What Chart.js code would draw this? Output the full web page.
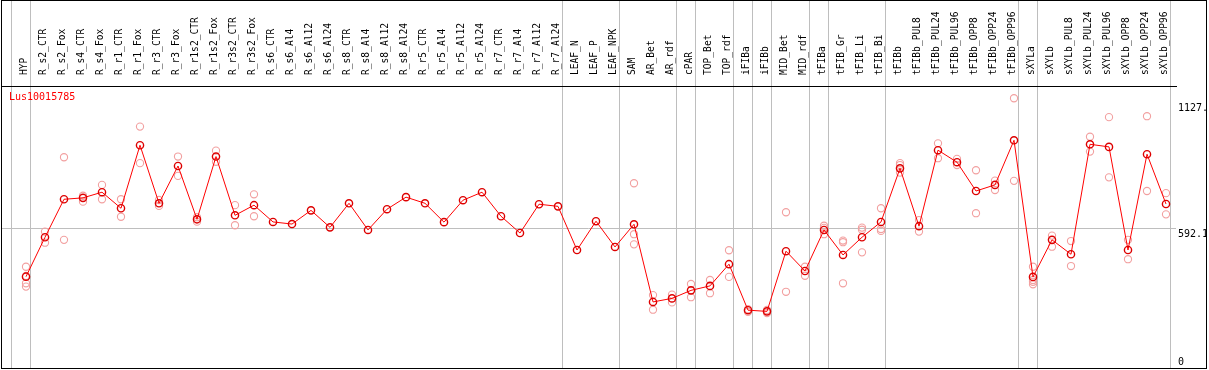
<!DOCTYPE html>
<html>
<head>
<meta charset="utf-8">
<script src="https://cdn.jsdelivr.net/npm/chart.js@4/dist/chart.umd.min.js"></script>
<style>
    html, body { margin: 0; padding: 0; background: #fff; }
    #wrap { position: relative; width: 1209px; height: 370px; }
    #frame {
        position: absolute; left: 1px; top: 0; width: 1206px; height: 369px;
        box-sizing: border-box; border: 1px solid #000; pointer-events: none;
    }
    #gene {
        position: absolute; left: 9px; top: 91px; color: #ff0000;
        font: 10px "DejaVu Sans Mono", monospace;
    }
</style>
</head>
<body>
<div id="wrap">
    <canvas id="chart" width="1209" height="370"></canvas>
    <div id="frame"></div>
    <div id="gene">Lus10015785</div>
</div>
<script>
const categories = [
    'HYP', 'R_s2_CTR', 'R_s2_Fox', 'R_s4_CTR', 'R_s4_Fox', 'R_r1_CTR', 'R_r1_Fox', 'R_r3_CTR', 'R_r3_Fox',
    'R_r1s2_CTR', 'R_r1s2_Fox', 'R_r3s2_CTR', 'R_r3s2_Fox', 'R_s6_CTR', 'R_s6_Al4', 'R_s6_Al12', 'R_s6_Al24',
    'R_s8_CTR', 'R_s8_Al4', 'R_s8_Al12', 'R_s8_Al24', 'R_r5_CTR', 'R_r5_Al4', 'R_r5_Al12', 'R_r5_Al24',
    'R_r7_CTR', 'R_r7_Al4', 'R_r7_Al12', 'R_r7_Al24', 'LEAF_N', 'LEAF_P', 'LEAF_NPK', 'SAM', 'AR_Bet', 'AR_rdf',
    'cPAR', 'TOP_Bet', 'TOP_rdf', 'iFIBa', 'iFIBb', 'MID_Bet', 'MID_rdf', 'tFIBa', 'tFIB_Gr', 'tFIB_Li', 'tFIB_Bi',
    'tFIBb', 'tFIBb_PUL8', 'tFIBb_PUL24', 'tFIBb_PUL96', 'tFIBb_OPP8', 'tFIBb_OPP24', 'tFIBb_OPP96',
    'sXYLa', 'sXYLb', 'sXYLb_PUL8', 'sXYLb_PUL24', 'sXYLb_PUL96', 'sXYLb_OPP8', 'sXYLb_OPP24', 'sXYLb_OPP96'
];

// mean expression per sample
const means = [
    387, 554, 715, 721, 745, 677, 944, 698, 856,
    630, 896, 647, 690, 619, 610, 668, 596,
    698, 585, 673, 724, 698, 618, 711, 745,
    643, 572, 694, 685, 500, 622, 513, 609, 280, 295,
    329, 348, 440, 245, 240, 495, 411, 585, 479, 554, 619,
    846, 601, 923, 872, 750, 776, 965,
    386, 543, 482, 948, 937, 500, 906, 695
];

// individual replicates (empty where they sit under the mean marker)
const replicates = [
    [429, 390, 359, 345], [578, 531], [893, 543], [730, 705], [776, 715], [715, 641], [1023, 868], [712, 687], [896, 814],
    [639, 620], [921, 874], [690, 605], [736, 643], [], [], [], [],
    [], [], [], [], [], [], [], [],
    [], [], [], [], [], [], [], [783, 567, 524], [309, 247], [311, 278],
    [356, 300], [373, 317], [499, 386], [249, 238], [233, 246], [660, 323], [429, 391], [603, 594, 567], [540, 533, 359], [595, 586, 490], [677, 589, 581],
    [868, 860, 828], [627, 578], [952, 889], [886, 860], [838, 656], [794, 754], [1143, 793],
    [429, 373, 365, 355], [561, 514], [538, 432], [980, 917], [1063, 808], [543, 461], [1067, 750], [741, 651]
];

// group separators: index of the last sample in each group (-1 = left edge line)
const separatorAfter = [-1, 0, 28, 31, 34, 35, 37, 38, 39, 41, 42, 45, 52, 53, 60];

const yTicks = [0, 592.1, 1127];
const yTickLabels = ['0', '592.1', '1127.'];

const mono = '"DejaVu Sans Mono", monospace';
const sepValues = separatorAfter.map(i => i + 0.23);

const meanPoints = means.map((v, i) => ({ x: i, y: v }));
const repPoints = [];
replicates.forEach((reps, i) => reps.forEach(v => repPoints.push({ x: i, y: v })));

// group separator lines run from the top of the header down to the plot bottom
const separators = {
    id: 'separators',
    beforeDatasetsDraw(chart) {
        const { ctx, chartArea, scales } = chart;
        ctx.save();
        ctx.strokeStyle = '#bebebe';
        ctx.lineWidth = 1;
        sepValues.forEach(v => {
            const x = Math.round(scales.x.getPixelForValue(v)) + 0.5;
            ctx.beginPath();
            ctx.moveTo(x, 0);
            ctx.lineTo(x, chartArea.bottom);
            ctx.stroke();
        });
        ctx.restore();
    }
};

new Chart(document.getElementById('chart'), {
    type: 'line',
    data: {
        datasets: [{
            data: meanPoints,
            borderColor: '#ff0000',
            borderWidth: 1,
            pointRadius: 3.6,
            pointBorderWidth: 1.4,
            pointBorderColor: '#dd0000',
            pointBackgroundColor: 'rgba(0,0,0,0)',
            tension: 0
        }, {
            data: repPoints,
            showLine: false,
            pointRadius: 3.6,
            pointBorderWidth: 1.1,
            pointBorderColor: '#f2a0a0',
            pointBackgroundColor: 'rgba(0,0,0,0)'
        }]
    },
    plugins: [separators],
    options: {
        responsive: false,
        animation: false,
        layout: { autoPadding: false, padding: { left: 1, right: 2, top: 0, bottom: 2 } },
        plugins: { legend: { display: false }, tooltip: { enabled: false } },
        scales: {
            x: {
                type: 'linear',
                position: 'top',
                min: -25 / 19,
                max: -25 / 19 + 1175 / 19,
                afterBuildTicks: axis => { axis.ticks = categories.map((c, i) => ({ value: i })); },
                afterFit: axis => {
                    axis.height = 86;
                    axis.paddingLeft = 0;
                    axis.paddingRight = 0;
                },
                border: { display: true, color: '#000', width: 1, z: 1 },
                grid: { display: false },
                ticks: {
                    autoSkip: false,
                    minRotation: 90,
                    maxRotation: 90,
                    padding: 3,
                    labelOffset: 10,
                    color: '#000',
                    font: { family: mono, size: 9.6, lineHeight: 1.2 },
                    callback: value => categories[Math.round(value)] || ''
                }
            },
            y: {
                position: 'right',
                min: 0,
                max: 1195,
                afterBuildTicks: axis => { axis.ticks = yTicks.map(v => ({ value: v })); },
                afterFit: axis => {
                    axis.width = 31;
                    axis.paddingTop = 0;
                    axis.paddingBottom = 0;
                },
                border: { display: false },
                grid: {
                    drawTicks: false,
                    color: ctx => (ctx.tick && ctx.tick.value === 592.1) ? '#bebebe' : 'rgba(0,0,0,0)'
                },
                ticks: {
                    padding: 2,
                    crossAlign: 'near',
                    color: '#000',
                    font: { family: mono, size: 10 },
                    callback: value => {
                        const lab = yTickLabels[yTicks.indexOf(value)];
                        return value === 0 ? [lab, ''] : ['', lab];
                    }
                }
            }
        }
    }
});
</script>
</body>
</html>
